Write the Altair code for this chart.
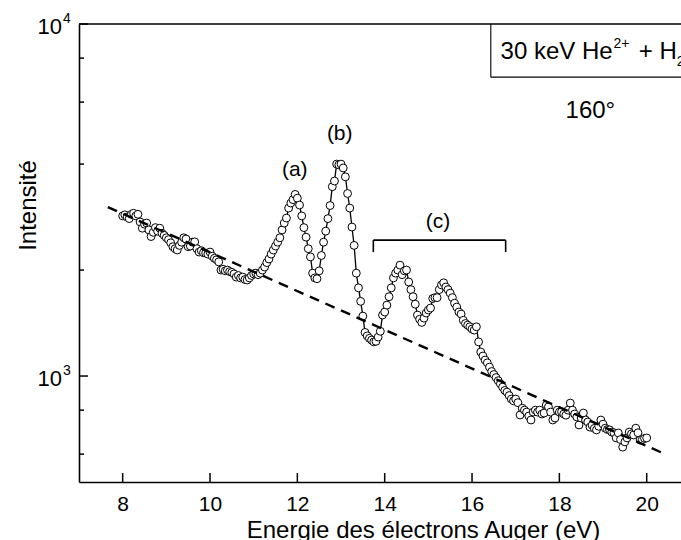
import altair as alt
import numpy as np
import pandas as pd

FONT = "Liberation Sans"

# Auger electron spectrum, 8.00 eV to 20.00 eV in 0.05 eV steps (counts)
intensity = [
    2850, 2870, 2830, 2800, 2880, 2900, 2850, 2880, 2740, 2630, 2700, 2720, 2600, 2490, 2560, 2640, 2580, 2630, 2545, 2510,
    2470, 2440, 2390, 2330, 2300, 2280, 2350, 2400, 2470, 2450, 2330, 2340, 2400, 2405, 2300, 2250, 2270, 2240, 2235, 2220,
    2250, 2190, 2160, 2140, 2110, 2000, 2010, 1990, 2000, 1980, 1970, 1950, 1910, 1930, 1900, 1910, 1880, 1874, 1900, 1930,
    1950, 1960, 1940, 1960, 2000, 2040, 2100, 2150, 2220, 2280, 2340, 2400, 2470, 2600, 2720, 2810, 3000, 3100, 3170, 3280,
    3200, 3060, 2850, 2640, 2480, 2300, 2180, 1960, 1900, 1890, 1990, 2200, 2400, 2580, 2800, 3050, 3450, 3580, 4000, 3980,
    4000, 3900, 3680, 3300, 3000, 2650, 2350, 1960, 1780, 1630, 1480, 1330, 1300, 1280, 1265, 1250, 1255, 1290, 1340, 1490,
    1520, 1590, 1680, 1780, 1900, 1960, 2000, 2065, 1940, 1990, 2000, 1850, 1760, 1680, 1600, 1490, 1450, 1420, 1460, 1510,
    1540, 1560, 1660, 1670, 1670, 1760, 1815, 1840, 1790, 1760, 1720, 1670, 1610, 1570, 1520, 1500, 1440, 1410, 1395, 1380,
    1360, 1350, 1380, 1250, 1170, 1140, 1110, 1090, 1060, 1030, 1010, 990, 970, 950, 930, 910, 900, 880, 860, 850,
    860, 840, 775, 810, 800, 790, 770, 750, 790, 800, 790, 800, 780, 785, 827, 817, 790, 750, 760, 800,
    790, 791, 780, 774, 800, 838, 800, 780, 765, 726, 760, 785, 750, 740, 716, 725, 710, 703, 720, 750,
    730, 711, 705, 703, 693, 690, 667, 689, 660, 628, 650, 667, 693, 685, 680, 711, 690, 658, 660, 665,
    667,
]
energy = np.round(8.0 + 0.05 * np.arange(len(intensity)), 2)

# Linear (in log scale) background under the spectrum
background_E = [7.66, 20.46]
background_I = [3020, 597]

# Axis ticks
x_major = [8, 10, 12, 14, 16, 18, 20]
y_major = [1000, 10000]
y_minor = [600, 800, 2000, 4000, 6000, 8000]
y_label_exp = ["3", "4"]

# Peak labels and the bracket over group (c)
peak_labels = ["(a)", "(b)", "(c)"]
peak_E = [11.94, 12.97, 15.22]
peak_I = [3700, 4677, 2630]
bracket_E = [13.74, 16.77]
bracket_top, bracket_foot = 2432, 2249

# Collision system box and angle
box_E, box_I = 16.43, 7063

W, H = 602, 458
x_dom = [7, 7 + W / 43.67]
y_dom = [500, 10000]
xs = alt.Scale(domain=x_dom, nice=False, zero=False)
ys = alt.Scale(type="log", domain=y_dom, nice=False)

spec = pd.DataFrame({"E": energy, "I": intensity})

X = lambda f="E": alt.X(f"{f}:Q", scale=xs)
Y = lambda f="I": alt.Y(f"{f}:Q", scale=ys)

line = alt.Chart(spec).mark_line(color="black", strokeWidth=1.3).encode(
    x=alt.X("E:Q", scale=xs,
            axis=alt.Axis(values=x_major, ticks=False, tickSize=0, grid=False,
                          domainColor="black", domainWidth=1.6,
                          labelFontSize=21, labelPadding=11, labelColor="black",
                          title="Energie des électrons Auger (eV)",
                          titleFontSize=24, titleFontWeight="normal", titleColor="black",
                          titleX=344, titleY=55, titleBaseline="alphabetic")),
    y=alt.Y("I:Q", scale=ys,
            axis=alt.Axis(labels=False, ticks=False, tickSize=0, grid=False,
                          domainColor="black", domainWidth=1.6,
                          title="Intensité", titleFontSize=24, titleFontWeight="normal",
                          titleColor="black", titleAngle=270, titleX=-44, titleY=181,
                          titleBaseline="alphabetic", titleAlign="center")),
    order="E:Q",
)

points = alt.Chart(spec).mark_point(
    shape="circle", filled=True, fill="white", stroke="black",
    strokeWidth=1, size=62, opacity=1,
).encode(x=X(), y=Y())

bg = alt.Chart(pd.DataFrame({"E": background_E, "I": background_I})).mark_line(
    color="black", strokeWidth=2.4, strokeDash=[10, 7]
).encode(x=X(), y=Y())

# inward ticks
xt = alt.Chart(pd.DataFrame({"E": x_major})).mark_rule(color="black", strokeWidth=1.5).encode(
    x=X(), y=alt.value(H - 9), y2=alt.value(H))
yt = alt.Chart(pd.DataFrame({"I": y_major})).mark_rule(color="black", strokeWidth=1.5).encode(
    y=Y(), x=alt.value(0), x2=alt.value(9))
ym = alt.Chart(pd.DataFrame({"I": y_minor})).mark_rule(color="black", strokeWidth=1.5).encode(
    y=Y(), x=alt.value(0), x2=alt.value(5))
top = alt.Chart(pd.DataFrame({"I": [10000]})).mark_rule(color="black", strokeWidth=1.6).encode(
    y=Y(), x=alt.value(0), x2=alt.value(W))

ylab = pd.DataFrame({"I": y_major, "t": ["10", "10"], "e": y_label_exp})
ytext = alt.Chart(ylab).mark_text(align="right", baseline="middle", fontSize=22, font=FONT, dy=3).encode(
    y=Y(), x=alt.value(-17), text="t:N")
yexp = alt.Chart(ylab).mark_text(align="left", baseline="middle", fontSize=14, font=FONT, dy=-5).encode(
    y=Y(), x=alt.value(-16), text="e:N")

peaks = alt.Chart(pd.DataFrame({"E": peak_E, "I": peak_I, "t": peak_labels})).mark_text(
    align="center", baseline="alphabetic", fontSize=21, font=FONT, color="black"
).encode(x=X(), y=Y(), text="t:N")

br = pd.DataFrame({
    "E": [bracket_E[0], bracket_E[0], bracket_E[1]],
    "E2": [bracket_E[1], bracket_E[0], bracket_E[1]],
    "I": [bracket_top, bracket_top, bracket_top],
    "I2": [bracket_top, bracket_foot, bracket_foot],
})
bracket = alt.Chart(br).mark_rule(color="black", strokeWidth=1.6).encode(
    x=X(), x2="E2:Q", y=Y(), y2="I2:Q")

box = pd.DataFrame({
    "E": [box_E, box_E], "E2": [box_E, x_dom[1]],
    "I": [box_I, box_I], "I2": [10000, box_I],
})
boxr = alt.Chart(box).mark_rule(color="black", strokeWidth=1.1).encode(
    x=X(), x2="E2:Q", y=Y(), y2="I2:Q")

# "30 keV He^2+ + H_2": pieces joined at shared anchor energies
sys_txt = pd.DataFrame({
    "E": [19.22, 19.24, 20.69, 20.69],
    "I": [7955, 8520, 7955, 7580],
    "t": ["30 keV He", "2+", "+ H", "2"],
    "s": [24, 14, 24, 14],
    "a": ["right", "left", "right", "left"],
})
sys_main = alt.Chart(sys_txt).transform_filter(alt.datum.a == "right").mark_text(
    align="right", baseline="alphabetic", font=FONT, color="black"
).encode(x=X(), y=Y(), text="t:N", size=alt.Size("s:Q", scale=None, legend=None))
sys_sub = alt.Chart(sys_txt).transform_filter(alt.datum.a == "left").mark_text(
    align="left", baseline="alphabetic", font=FONT, color="black"
).encode(x=X(), y=Y(), text="t:N", size=alt.Size("s:Q", scale=None, legend=None))

angle = alt.Chart(pd.DataFrame({"E": [18.71], "I": [5410], "t": ["160°"]})).mark_text(
    align="center", baseline="alphabetic", fontSize=24, font=FONT, color="black"
).encode(x=X(), y=Y(), text="t:N")

chart = alt.layer(
    line, points, bg, xt, yt, ym, top, ytext, yexp, peaks, bracket, boxr,
    sys_main, sys_sub, angle
).properties(
    width=W, height=H,
    padding={"left": 79, "top": 24, "right": 0, "bottom": 58},
    autosize=alt.AutoSizeParams(type="none"),
).configure_view(stroke=None).configure_axis(
    labelFont=FONT, titleFont=FONT
)

chart.save("out.html", embed_options={"renderer": "svg", "actions": False})
